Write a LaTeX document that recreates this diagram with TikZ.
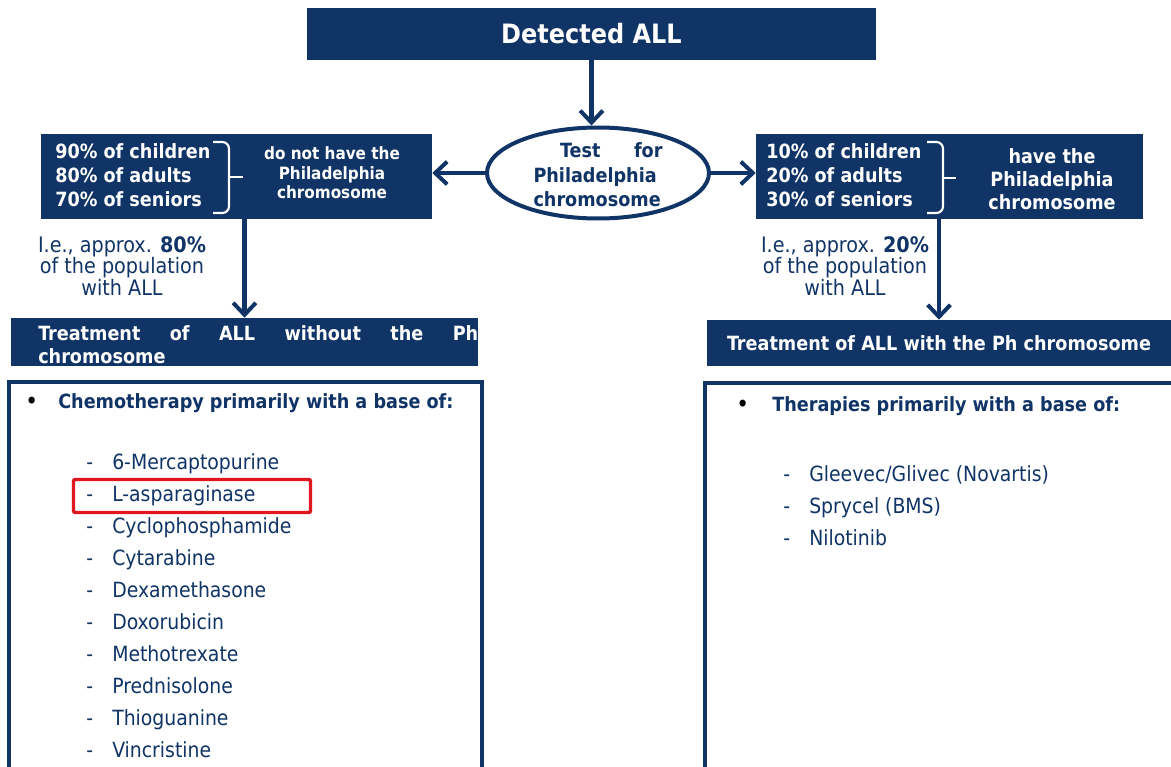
\documentclass[tikz,border=0pt]{standalone}
\usepackage{fontspec}
\setmainfont{DejaVu Sans Condensed}
\usetikzlibrary{arrows.meta,shapes.geometric,positioning}
\definecolor{navy}{RGB}{16,52,102}
\definecolor{hlred}{RGB}{226,22,30}
\hyphenpenalty=10000

\begin{document}
\begin{tikzpicture}[x=0.75pt,y=-0.75pt]
  \tikzset{
    box/.style={fill=navy, text=white, inner sep=0pt, font=\bfseries\fontsize{14.7}{17}\selectfont},
    boxtext/.style={text=white, inner sep=0pt, font=\bfseries\fontsize{14.7}{18}\selectfont},
    arr/.style={draw=navy, line width=3.4pt, -{Straight Barb[length=9pt,width=17pt,line width=3pt]}},
    frame/.style={draw=navy, line width=2.4pt, fill=white, inner sep=0pt},
    curly/.style={draw=white, line width=1.6pt, rounded corners=5pt},
    item/.style={anchor=base west, inner sep=0pt, text=navy, font=\fontsize{15.7}{18}\selectfont},
    head/.style={item, font=\bfseries\fontsize{14.7}{18}\selectfont},
    note/.style={text=navy, align=center, inner sep=0pt, font=\fontsize{16}{16.1}\selectfont}
  }
  \useasboundingbox (0,0) rectangle (1171,767);

  % top of the chart
  \node[box, minimum width=569*0.75pt, minimum height=52*0.75pt,
        font=\bfseries\fontsize{20}{24}\selectfont] (top) at (591.5,34) {Detected ALL};
  \node[ellipse, draw=navy, line width=3pt, fill=white, inner sep=0pt,
        minimum width=222*0.75pt, minimum height=91*0.75pt] (test) at (598,173) {};
  \node[text=navy, inner sep=0pt, align=left, text width=129*0.75pt,
        font=\bfseries\fontsize{14.7}{18.4}\selectfont] (testtxt) at (598,175)
        {\hspace*{20pt}Test\hfill for\\Philadelphia\\chromosome};

  % the two groups
  \node[box, minimum width=391*0.75pt, minimum height=85*0.75pt] (lbox) at (236.5,176.5) {};
  \node[boxtext, anchor=west, align=left] (lpct) at (55,175)
        {90\% of children\\80\% of adults\\70\% of seniors};
  \draw[curly] (213,142) -- (229,142) -- (229,177) -- (229,213) -- (213,213);
  \draw[white, line width=1.6pt] (229,177) -- (243,177);
  \node[boxtext, align=center, font=\bfseries\fontsize{12.7}{14.6}\selectfont] (lhave) at (332,173)
        {do not have the\\Philadelphia\\chromosome};

  \node[box, minimum width=387*0.75pt, minimum height=85*0.75pt] (rbox) at (949.5,176.5) {};
  \node[boxtext, anchor=west, align=left] (rpct) at (766,175)
        {10\% of children\\20\% of adults\\30\% of seniors};
  \draw[curly] (927,142) -- (943,142) -- (943,178) -- (943,213) -- (927,213);
  \draw[white, line width=1.6pt] (943,178) -- (956,178);
  \node[boxtext, align=center, font=\bfseries\fontsize{14.7}{17.3}\selectfont] (rhave) at (1052,179)
        {have the\\Philadelphia\\chromosome};

  \node[note] (lnote) at (122,266) {I.e., approx. \textbf{80\%}\\of the population\\with ALL};
  \node[note] (rnote) at (845,266) {I.e., approx. \textbf{20\%}\\of the population\\with ALL};

  % treatments
  \node[box, minimum width=467*0.75pt, minimum height=48*0.75pt] (ltreat) at (244.5,342) {};
  \node[boxtext, anchor=west, align=justify, text width=440*0.75pt,
        font=\bfseries\fontsize{14.7}{17.3}\selectfont] (ltreattxt) at (38,345)
        {Treatment of ALL without the Ph chromosome};
  \node[box, minimum width=464*0.75pt, minimum height=46*0.75pt] (rtreat) at (939,343)
        {Treatment of ALL with the Ph chromosome};

  % arrows
  \draw[arr] (top.south) -- (top.south |- test.north);
  \draw[arr] (test.west) -- (test.west -| lbox.east);
  \draw[arr] (test.east) -- (test.east -| rbox.west);
  \draw[arr] (lbox.south -| ltreat.north) -- (ltreat.north);
  \draw[arr] (rbox.south -| rtreat.north) -- (rtreat.north);

  % lists
  \node[frame, minimum width=473*0.75pt, minimum height=398*0.75pt] (lchemo) at (245.5,581) {};
  \node[item, text=black, font=\fontsize{18}{18}\selectfont] (lbullet) at (25,409) {\textbullet};
  \node[head] (lhead) at (58,408) {Chemotherapy primarily with a base of:};
  \foreach \drug [count=\i from 0] in {6-Mercaptopurine, L-asparaginase, Cyclophosphamide,
      Cytarabine, Dexamethasone, Doxorubicin, Methotrexate, Prednisolone, Thioguanine, Vincristine}{
    \node[item] (ldash\i) at (86,469+32.1*\i) {-};
    \node[item] (ldrug\i) at (112,469+32.1*\i) {\drug};
  }
  \node[draw=hlred, line width=2.6pt, rounded corners=1pt, inner sep=0pt,
        minimum width=237*0.75pt, minimum height=33*0.75pt] (mark) at (192,496) {};

  \node[frame, minimum width=475*0.75pt, minimum height=397*0.75pt] (rther) at (942.5,581.5) {};
  \node[item, text=black, font=\fontsize{18}{18}\selectfont] (rbullet) at (736,412) {\textbullet};
  \node[head] (rhead) at (772,411) {Therapies primarily with a base of:};
  \foreach \drug [count=\i from 0] in {Gleevec/Glivec (Novartis), Sprycel (BMS), Nilotinib}{
    \node[item] (rdash\i) at (783,481+32*\i) {-};
    \node[item] (rdrug\i) at (809,481+32*\i) {\drug};
  }
\end{tikzpicture}
\end{document}
